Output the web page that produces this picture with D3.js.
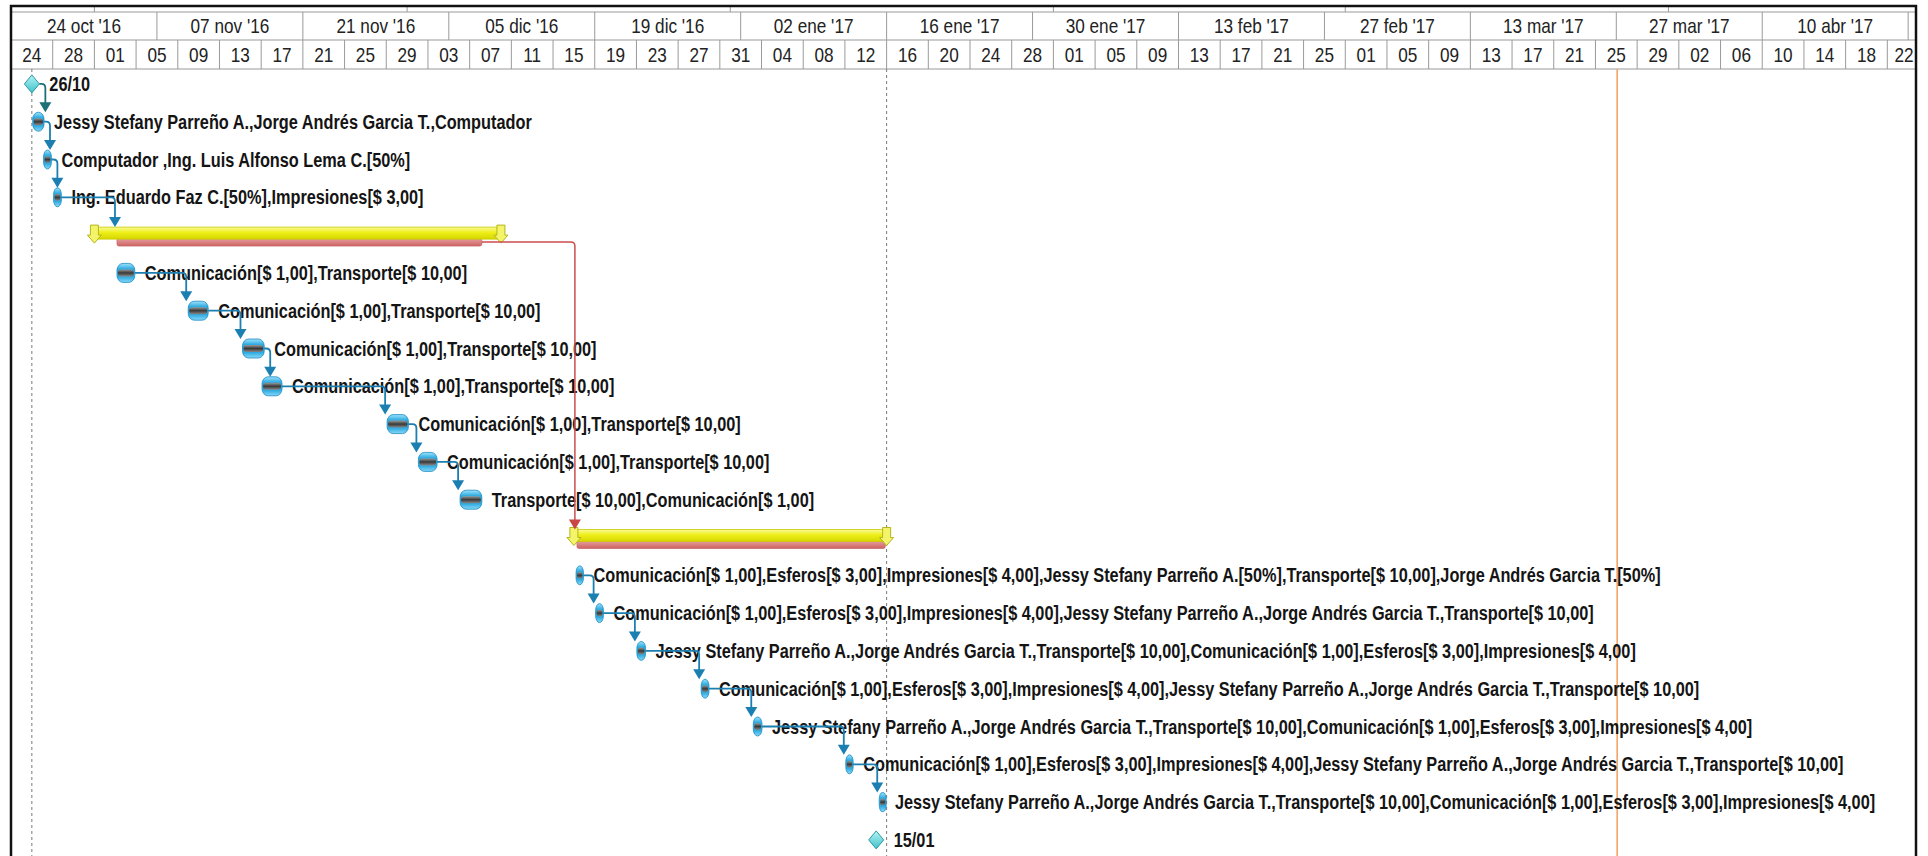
<!DOCTYPE html>
<html lang="es">
<head>
<meta charset="UTF-8">
<title>Diagrama de Gantt</title>
<script src="https://cdn.jsdelivr.net/npm/d3@7"></script>
<style>
  body { margin: 0; background: #fff; }
  svg { display: block; }
  .hdr text { font-family: "Liberation Sans", Arial, sans-serif; font-size: 20px; fill: #222; }
  .lbl { font-family: "Liberation Sans", Arial, sans-serif; font-size: 20px; font-weight: bold; fill: #141414; }
</style>
</head>
<body>
<svg id="gantt" width="1928" height="856"></svg>
<script>
const taskLabels = [
  "26/10",
  "Jessy Stefany Parreño A.,Jorge Andrés Garcia T.,Computador",
  "Computador ,Ing. Luis Alfonso Lema C.[50%]",
  "Ing. Eduardo Faz C.[50%],Impresiones[$ 3,00]",
  "",
  "Comunicación[$ 1,00],Transporte[$ 10,00]",
  "Comunicación[$ 1,00],Transporte[$ 10,00]",
  "Comunicación[$ 1,00],Transporte[$ 10,00]",
  "Comunicación[$ 1,00],Transporte[$ 10,00]",
  "Comunicación[$ 1,00],Transporte[$ 10,00]",
  "Comunicación[$ 1,00],Transporte[$ 10,00]",
  "Transporte[$ 10,00],Comunicación[$ 1,00]",
  "",
  "Comunicación[$ 1,00],Esferos[$ 3,00],Impresiones[$ 4,00],Jessy Stefany Parreño A.[50%],Transporte[$ 10,00],Jorge Andrés Garcia T.[50%]",
  "Comunicación[$ 1,00],Esferos[$ 3,00],Impresiones[$ 4,00],Jessy Stefany Parreño A.,Jorge Andrés Garcia T.,Transporte[$ 10,00]",
  "Jessy Stefany Parreño A.,Jorge Andrés Garcia T.,Transporte[$ 10,00],Comunicación[$ 1,00],Esferos[$ 3,00],Impresiones[$ 4,00]",
  "Comunicación[$ 1,00],Esferos[$ 3,00],Impresiones[$ 4,00],Jessy Stefany Parreño A.,Jorge Andrés Garcia T.,Transporte[$ 10,00]",
  "Jessy Stefany Parreño A.,Jorge Andrés Garcia T.,Transporte[$ 10,00],Comunicación[$ 1,00],Esferos[$ 3,00],Impresiones[$ 4,00]",
  "Comunicación[$ 1,00],Esferos[$ 3,00],Impresiones[$ 4,00],Jessy Stefany Parreño A.,Jorge Andrés Garcia T.,Transporte[$ 10,00]",
  "Jessy Stefany Parreño A.,Jorge Andrés Garcia T.,Transporte[$ 10,00],Comunicación[$ 1,00],Esferos[$ 3,00],Impresiones[$ 4,00]",
  "15/01"
];
const taskKinds = ["milestone", "task", "task", "task", "summary",
  "task", "task", "task", "task", "task", "task", "task", "summary",
  "task", "task", "task", "task", "task", "task", "task", "milestone"];
const taskStarts = [
  "2016-10-26T00:00", "2016-10-26T02:00", "2016-10-27T03:00", "2016-10-28T02:00",
  "2016-11-01T00:00",
  "2016-11-03T04:00", "2016-11-10T00:00", "2016-11-15T05:00", "2016-11-17T02:00",
  "2016-11-29T02:00", "2016-12-02T02:00", "2016-12-06T02:00",
  "2016-12-17T00:00",
  "2016-12-17T05:00", "2016-12-19T02:00", "2016-12-23T01:00", "2016-12-29T05:00",
  "2017-01-03T05:00", "2017-01-12T02:00", "2017-01-15T07:00",
  "2017-01-15T00:00"
];
const taskDays = [0, 1.1, 0.75, 0.75, 39, 1.7, 1.9, 2.1, 1.9, 2.05, 1.8, 2.1, 30,
  0.7, 0.75, 0.85, 0.75, 0.85, 0.7, 0.55, 0];

// barras rojas bajo las tareas resumen
const critRows = [4, 12];
const critStarts = ["2016-11-03T04:00", "2016-12-17T07:00"];
const critDays = [35, 29.6];

const links = [[0, 1], [1, 2], [2, 3], [3, 4], [5, 6], [6, 7], [7, 8], [8, 9], [9, 10],
  [10, 11], [13, 14], [14, 15], [15, 16], [16, 17], [17, 18], [18, 19]];
const critLinks = [[4, 12]];

const viewStart = "2016-10-24T00:00";
const viewEnd = "2017-04-24T00:00";
const projectStart = "2016-10-26T00:00";
const projectEnd = "2017-01-16T00:00";
const statusDate = "2017-03-27T02:00";

// --- escalas ---
const parse = d3.utcParse("%Y-%m-%dT%H:%M");
const left = 11, right = 1916, frameTop = 6;
const tierMonth = 12, tierTop = 40, hdrBottom = 69;
const H = 856;
const lblSquash = 0.815, hdrSquash = 0.86;

const x = d3.scaleUtc()
  .domain([parse(viewStart), parse(viewEnd)])
  .range([left, left + 182 * 10.424]);

const rows = d3.range(taskLabels.length);
const y = d3.scaleBand().domain(rows).range([65, 65 + rows.length * 37.8]);
const yc = i => y(i) + y.bandwidth() / 2;

const es = d3.timeFormatLocale({
  dateTime: "%A, %e de %B de %Y, %X", date: "%d/%m/%Y", time: "%H:%M:%S",
  periods: ["AM", "PM"],
  days: ["domingo", "lunes", "martes", "miércoles", "jueves", "viernes", "sábado"],
  shortDays: ["dom", "lun", "mar", "mié", "jue", "vie", "sáb"],
  months: ["enero", "febrero", "marzo", "abril", "mayo", "junio", "julio", "agosto", "septiembre", "octubre", "noviembre", "diciembre"],
  shortMonths: ["ene", "feb", "mar", "abr", "may", "jun", "jul", "ago", "sep", "oct", "nov", "dic"]
});
const fmtTop = es.utcFormat("%d %b '%y");
const fmtBot = es.utcFormat("%d");

const svg = d3.select("#gantt");
svg.append("rect").attr("width", 1928).attr("height", H).attr("fill", "#fff");

const defs = svg.append("defs");
function grad(id, stops) {
  const g = defs.append("linearGradient").attr("id", id)
    .attr("x1", 0).attr("y1", 0).attr("x2", 0).attr("y2", 1);
  stops.forEach(s => g.append("stop").attr("offset", s[0]).attr("stop-color", s[1]));
}
grad("gTask", [[0, "#9fe3fb"], [0.3, "#2aa9e0"], [0.7, "#2aa9e0"], [1, "#8ad8f6"]]);
grad("gCore", [[0, "#9a9a9a"], [0.5, "#383838"], [1, "#8a8a8a"]]);
grad("gSum", [[0, "#fbfb9a"], [0.45, "#eeee18"], [1, "#d6d600"]]);
grad("gCrit", [[0, "#e9a3a3"], [1, "#cd6262"]]);
grad("gMile", [[0, "#b4f2f4"], [1, "#3fc3ca"]]);

defs.append("clipPath").attr("id", "clipChart")
  .append("rect").attr("x", left).attr("y", frameTop).attr("width", right - left).attr("height", H - frameTop);

const d0 = x.domain()[0], d1 = x.domain()[1];

// --- encabezado ---
const hdr = svg.append("g").attr("class", "hdr").attr("clip-path", "url(#clipChart)");

hdr.selectAll(".mline").data(d3.utcMonth.range(d0, d1))
  .join("line")
  .attr("x1", d => x(d)).attr("x2", d => x(d))
  .attr("y1", frameTop).attr("y2", tierMonth)
  .attr("stroke", "#9a9a9a");

const weeks = d3.utcMonday.range(d0, d3.utcDay.offset(d1, 14)).filter((d, i) => i % 2 === 0);
hdr.selectAll(".tline").data(weeks)
  .join("line")
  .attr("x1", d => x(d)).attr("x2", d => x(d))
  .attr("y1", tierMonth).attr("y2", tierTop)
  .attr("stroke", "#9a9a9a");

// textos del encabezado sin recorte; solo los que caben
const hdrText = svg.append("g").attr("class", "hdr");
hdrText.selectAll(".ttext").data(weeks.filter(d => (x(d) + x(d3.utcDay.offset(d, 14))) / 2 < right - 40))
  .join("text")
  .attr("transform", d => `translate(${(x(d) + x(d3.utcDay.offset(d, 14))) / 2},${(tierMonth + tierTop) / 2}) scale(${hdrSquash},1)`)
  .attr("dy", "0.36em")
  .attr("text-anchor", "middle")
  .text(d => fmtTop(d));

const quads = d3.utcDay.range(d0, d3.utcDay.offset(d1, 4), 4);
hdr.selectAll(".bline").data(quads)
  .join("line")
  .attr("x1", d => x(d)).attr("x2", d => x(d))
  .attr("y1", tierTop).attr("y2", hdrBottom)
  .attr("stroke", "#9a9a9a");
hdrText.selectAll(".btext").data(quads.filter(d => x(d) < right))
  .join("text")
  .attr("transform", d => `translate(${Math.min((x(d) + x(d3.utcDay.offset(d, 4))) / 2, right - 12)},${(tierTop + hdrBottom) / 2}) scale(${hdrSquash},1)`)
  .attr("dy", "0.36em")
  .attr("text-anchor", "middle")
  .text(d => fmtBot(d));

[tierMonth, tierTop, hdrBottom].forEach(v => {
  svg.append("line").attr("x1", left).attr("x2", right).attr("y1", v).attr("y2", v)
    .attr("stroke", "#9a9a9a").attr("stroke-width", 1.2);
});

// --- cuerpo ---
const body = svg.append("g").attr("clip-path", "url(#clipChart)");

[projectStart, projectEnd].forEach(s => {
  body.append("line")
    .attr("x1", x(parse(s))).attr("x2", x(parse(s)))
    .attr("y1", hdrBottom).attr("y2", H)
    .attr("stroke", "#7a7a7a").attr("stroke-dasharray", "3,3");
});
body.append("line")
  .attr("x1", x(parse(statusDate))).attr("x2", x(parse(statusDate)))
  .attr("y1", hdrBottom).attr("y2", H)
  .attr("stroke", "#f2a468").attr("stroke-width", 1.6);

const tasks = rows.map(i => {
  const s = parse(taskStarts[i]);
  return {
    i, kind: taskKinds[i], label: taskLabels[i],
    x0: x(s), x1: x(d3.utcHour.offset(s, Math.round(taskDays[i] * 24))), y: yc(i)
  };
});
const crit = critRows.map((r, k) => {
  const s = parse(critStarts[k]);
  return { r, x0: x(s), x1: x(d3.utcHour.offset(s, Math.round(critDays[k] * 24))), y: yc(r) };
});

// resumen: barra roja debajo, amarilla encima, flechas en los extremos
body.selectAll(".crit").data(crit)
  .join("rect")
  .attr("x", d => d.x0).attr("y", d => d.y + 3)
  .attr("width", d => d.x1 - d.x0).attr("height", 8)
  .attr("rx", 2)
  .attr("fill", "url(#gCrit)").attr("stroke", "#c05858").attr("stroke-width", 0.6);

const sums = tasks.filter(t => t.kind === "summary");
body.selectAll(".sum").data(sums)
  .join("rect")
  .attr("x", d => d.x0).attr("y", d => d.y - 8)
  .attr("width", d => d.x1 - d.x0).attr("height", 12)
  .attr("fill", "url(#gSum)").attr("stroke", "#c9c900").attr("stroke-width", 0.8);

const cap = "M-4,-10 L4,-10 L4,0 L7,0 L0,8 L-7,0 L-4,0 Z";
sums.forEach(d => {
  [d.x0, d.x1].forEach(cx => {
    body.append("path")
      .attr("d", cap)
      .attr("transform", `translate(${cx},${d.y})`)
      .attr("fill", "#f4f46a").attr("stroke", "#b5b51c").attr("stroke-width", 1);
  });
});

// tareas
const bars = tasks.filter(t => t.kind === "task");
const barG = body.selectAll(".bar").data(bars).join("g");
barG.append("rect")
  .attr("x", d => d.x0).attr("y", d => d.y - 9.5)
  .attr("width", d => Math.max(d.x1 - d.x0, 7)).attr("height", 19)
  .attr("rx", d => Math.min((d.x1 - d.x0) / 2, 6)).attr("ry", 7)
  .attr("fill", "url(#gTask)").attr("stroke", "#1a8cc4").attr("stroke-width", 0.8);
barG.append("rect")
  .attr("x", d => d.x0 + 1).attr("y", d => d.y - 3.5)
  .attr("width", d => Math.max(d.x1 - d.x0 - 2, 5)).attr("height", 7)
  .attr("rx", 3)
  .attr("fill", "url(#gCore)");

// hitos
const miles = tasks.filter(t => t.kind === "milestone");
body.selectAll(".mile").data(miles)
  .join("path")
  .attr("d", d => `M${d.x0},${d.y - 9} L${d.x0 + 7.5},${d.y} L${d.x0},${d.y + 9} L${d.x0 - 7.5},${d.y} Z`)
  .attr("fill", "url(#gMile)").attr("stroke", "#2a99a1").attr("stroke-width", 1);

// etiquetas (fuente estrecha simulada con escala horizontal)
body.selectAll(".lbl").data(tasks.filter(t => t.label))
  .join("text")
  .attr("class", "lbl")
  .attr("transform", d => `translate(${(d.kind === "milestone" ? d.x0 + 7.5 : d.x1) + 10},${d.y}) scale(${lblSquash},1)`)
  .attr("dy", "0.35em")
  .text(d => d.label);

// vinculos
function linkPath(x0, y0, ax, tip) {
  const r = 4;
  return `M${x0},${y0} H${ax - r} Q${ax},${y0} ${ax},${y0 + r} V${tip - 9}`;
}
function endX(t) { return t.kind === "milestone" ? t.x0 + 7.5 : t.x1; }
function topY(t) { return t.kind === "summary" ? t.y - 8 : t.y - 9.5; }

links.forEach(([a, b]) => {
  const p = tasks[a], s = tasks[b];
  const sx = s.kind === "summary" ? crit[critRows.indexOf(b)].x0 : s.x0;
  const ax = Math.max(sx - 2, endX(p) + 6);
  const tip = topY(s);
  const col = a === 0 ? "#1d6f78" : "#1b7fb2";
  body.append("path").attr("d", linkPath(endX(p), p.y, ax, tip))
    .attr("fill", "none").attr("stroke", col).attr("stroke-width", 1.8);
  body.append("path").attr("d", `M${ax - 6},${tip - 10} L${ax + 6},${tip - 10} L${ax},${tip} Z`)
    .attr("fill", col);
});

critLinks.forEach(([a, b]) => {
  const p = crit[critRows.indexOf(a)], s = tasks[b];
  const ax = s.x0 + 1;
  const tip = topY(s);
  body.append("path").attr("d", linkPath(p.x1, p.y + 7, ax, tip))
    .attr("fill", "none").attr("stroke", "#cc4f4f").attr("stroke-width", 1.5);
  body.append("path").attr("d", `M${ax - 6},${tip - 10} L${ax + 6},${tip - 10} L${ax},${tip} Z`)
    .attr("fill", "#c84646");
});

// marco
svg.append("path")
  .attr("d", `M${left},${H} V${frameTop} H${right} V${H}`)
  .attr("fill", "none").attr("stroke", "#111").attr("stroke-width", 2.5);
</script>
</body>
</html>
